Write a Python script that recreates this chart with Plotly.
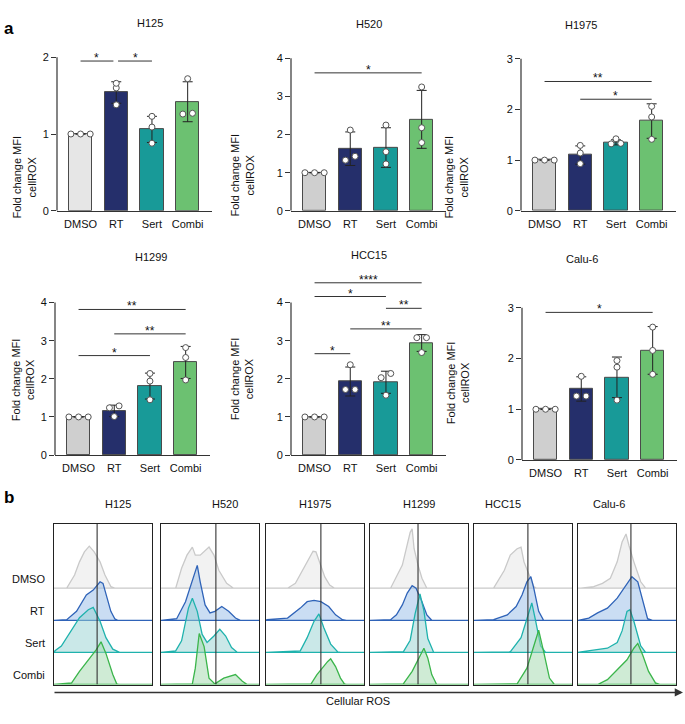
import plotly.graph_objects as go

W, H = 685, 724
FONT = "Liberation Sans, Arial, Helvetica, sans-serif"

# ---------------- data ----------------
groups = ["DMSO", "RT", "Sert", "Combi"]
cell_lines = ["H125", "H520", "H1975", "H1299", "HCC15", "Calu-6"]

mean_H125 = [1.00, 1.54, 1.06, 1.42]
mean_H520 = [1.00, 1.63, 1.66, 2.40]
mean_H1975 = [1.00, 1.10, 1.35, 1.77]
mean_H1299 = [1.00, 1.16, 1.81, 2.43]
mean_HCC15 = [1.00, 1.93, 1.91, 2.94]
mean_Calu6 = [1.00, 1.40, 1.63, 2.16]

sd_H125 = [0, 0.14, 0.17, 0.26]
sd_H520 = [0, 0.44, 0.52, 0.76]
sd_H1975 = [0, 0.18, 0.05, 0.34]
sd_H1299 = [0, 0.15, 0.34, 0.42]
sd_HCC15 = [0, 0.38, 0.29, 0.22]
sd_Calu6 = [0, 0.24, 0.40, 0.47]

pts_H125 = [[1, 1, 1], [1.66, 1.60, 1.38], [1.23, 1.09, 0.88], [1.72, 1.26, 1.27]]
pts_H520 = [[1, 1, 1], [2.12, 1.33, 1.43], [2.25, 1.55, 1.23], [3.25, 2.18, 1.79]]
pts_H1975 = [[1, 1, 1], [1.29, 1.14, 0.93], [1.42, 1.32, 1.33], [2.06, 1.85, 1.41]]
pts_H1299 = [[1, 1, 1], [1.29, 1.24, 1.01], [2.14, 1.94, 1.45], [2.82, 2.56, 1.97]]
pts_HCC15 = [[1, 1, 1], [2.37, 1.72, 1.72], [2.14, 2.03, 1.57], [3.08, 3.08, 2.69]]
pts_Calu6 = [[1, 1, 1], [1.65, 1.26, 1.26], [1.96, 1.83, 1.18], [2.62, 2.16, 1.69]]

# significance: (group i, group j, y level, label)
sig_H125 = [(0, 1, 1.95, "*"), (1, 2, 1.95, "*")]
sig_H520 = [(0, 3, 3.62, "*")]
sig_H1975 = [(0, 3, 2.55, "**"), (1, 3, 2.20, "*")]
sig_H1299 = [(0, 3, 3.82, "**"), (1, 3, 3.18, "**"), (0, 2, 2.61, "*")]
sig_HCC15 = [(0, 3, 4.52, "****"), (0, 2, 4.16, "*"), (2, 3, 3.85, "**"),
             (1, 3, 3.31, "**"), (0, 1, 2.66, "*")]
sig_Calu6 = [(0, 3, 2.91, "*")]

yticks_max = [2, 4, 3, 4, 4, 3]

# flow histograms: (x, relative height) per treatment; gate positions
gate = [44, 56, 56, 49, 55, 54]
hist_H125 = [
    [(13, 0), (21, 0.41), (26, 0.82), (31, 1.13), (36, 1.31), (41, 1.13), (47, 0.82), (52, 0.41), (58, 0.05), (62, 0)],
    [(13, 0.02), (23, 0.28), (33, 0.79), (40, 0.94), (45, 1.15), (47, 1.2), (50, 1.15), (53, 0.79), (58, 0.28), (62, 0.05), (65, 0)],
    [(1, 0.05), (7.5, 0.2), (18, 0.72), (26, 1.08), (35, 1.33), (40, 1.4), (47, 0.97), (53, 0.46), (60, 0.1), (67, 0)],
    [(18, 0.05), (26, 0.41), (35, 0.77), (43, 1.08), (48, 1.33), (53, 0.97), (60, 0.31), (64, 0.02), (67, 0)],
]
hist_H520 = [
    [(15, 0), (21, 0.62), (26.5, 1.03), (32, 1.28), (35, 1.03), (40, 1.03), (45, 1.18), (49, 1.28), (54, 1.03), (59, 0.56), (67, 0.15), (74, 0)],
    [(16, 0.05), (25, 0.58), (32, 1.2), (37, 1.71), (40, 1.2), (45, 0.48), (50, 0.23), (55, 0.28), (62, 0.43), (69, 0.28), (76, 0.07), (81, 0)],
    [(15, 0.05), (21, 0.36), (28, 1.38), (32, 1.69), (37, 1.28), (42, 0.56), (47, 0.31), (54, 0.51), (60, 0.72), (66, 0.51), (72, 0.15), (78, 0)],
    [(32, 0.02), (35, 0.51), (39, 1.59), (44, 1.18), (49, 0.2), (55, 0.02), (64, 0.2), (76, 0.31), (83, 0.1), (88, 0)],
]
hist_H1975 = [
    [(22, 0), (30, 0.15), (37, 0.55), (43, 0.9), (48, 1.15), (51, 1.13), (55, 0.75), (60, 0.35), (65, 0.1), (70, 0)],
    [(1, 0.02), (22, 0.07), (35, 0.38), (42, 0.58), (49, 0.62), (56, 0.58), (64, 0.43), (71, 0.17), (78, 0.02), (82, 0)],
    [(35, 0.05), (42, 0.46), (49, 0.97), (54, 1.2), (59, 0.77), (66, 0.26), (73, 0.02), (76, 0)],
    [(46, 0.02), (52, 0.31), (57, 0.51), (63, 0.72), (66, 0.8), (71, 0.56), (76, 0.2), (80, 0.02), (83, 0)],
]
hist_H1299 = [
    [(21, 0), (33, 0.72), (38, 1.33), (41, 1.74), (43, 1.85), (45, 1.23), (49, 0.72), (53, 0.31), (58, 0)],
    [(21, 0.02), (27, 0.17), (33, 0.48), (38, 0.85), (43, 1.08), (47, 1.0), (53, 0.58), (58, 0.17), (63, 0)],
    [(34, 0.02), (41, 0.38), (46, 1.2), (51, 1.82), (55, 1.3), (59, 0.43), (65, 0)],
    [(34, 0.02), (43, 0.41), (50, 0.82), (55, 1.13), (59, 0.82), (63, 0.31), (68, 0)],
]
hist_HCC15 = [
    [(20, 0), (31, 0.56), (37, 1.03), (44, 1.23), (48, 1.28), (51, 0.82), (56, 0.41), (61, 0.05), (64, 0)],
    [(20, 0.02), (34, 0.17), (43, 0.43), (49, 0.79), (54, 1.2), (58, 1.36), (61, 1.0), (66, 0.28), (71, 0)],
    [(37, 0.02), (48, 0.46), (54, 1.08), (59, 1.54), (63, 0.97), (68, 0.2), (73, 0)],
    [(44, 0.02), (54, 0.51), (61, 1.23), (66, 1.69), (71, 1.03), (77, 0.2), (82, 0)],
]
hist_Calu6 = [
    [(3, 0), (16, 0.05), (25, 0.15), (33, 0.31), (40, 0.82), (45, 1.44), (49, 1.69), (52, 1.33), (57, 0.82), (64, 0.2), (69, 0)],
    [(3, 0.02), (11, 0.07), (20, 0.23), (30, 0.38), (40, 0.69), (49, 1.1), (55, 1.36), (61, 1.2), (66, 0.58), (71, 0.05), (76, 0)],
    [(3, 0.02), (30, 0.13), (40, 0.31), (45, 0.67), (50, 1.28), (53, 1.33), (57, 0.97), (64, 0.2), (69, 0)],
    [(20, 0), (30, 0.15), (40, 0.46), (50, 0.77), (57, 1.13), (61, 1.28), (66, 0.92), (72, 0.41), (79, 0.05), (84, 0)],
]

means = [mean_H125, mean_H520, mean_H1975, mean_H1299, mean_HCC15, mean_Calu6]
sds = [sd_H125, sd_H520, sd_H1975, sd_H1299, sd_HCC15, sd_Calu6]
pts = [pts_H125, pts_H520, pts_H1975, pts_H1299, pts_HCC15, pts_Calu6]
sigs = [sig_H125, sig_H520, sig_H1975, sig_H1299, sig_HCC15, sig_Calu6]
hists = [hist_H125, hist_H520, hist_H1975, hist_H1299, hist_HCC15, hist_Calu6]

# ---------------- layout geometry (pixels) ----------------
axis_x = [57, 291, 521, 55, 291, 522]
base_y = [209, 209, 209, 457, 457, 462]
unit_px = [78, 38.7, 51.5, 38.7, 38.7, 51.5]
cat_px = 35.7
x_lo, x_hi = -0.66, 3.69
title_y = [10, 11, 12, 256, 254, 258]
ylab_x = [9, 242, 471, 8, 242, 473]
ylab_y = [131, 129, 131, 381, 380, 383]

box_left = [54, 161, 266, 370, 474, 578]
box_w = 98
box_top, box_bot = 527, 690

bar_colors = ["#cfcfcf", "#252f6b", "#189a98", "#6cc171"]
dmso_h125 = "#e6e6e6"
h_line = ["#c9c9c9", "#2f63b8", "#1fb2ad", "#3bb54b"]
h_fill = ["rgba(232,232,232,0.55)", "rgba(150,188,232,0.5)",
          "rgba(150,210,210,0.5)", "rgba(160,215,172,0.5)"]


def fx(p):
    return p / W


def fy(p):
    return 1 - p / H


fig = go.Figure()
shapes, annotations = [], []
lay = {}

# ---------------- panel a: bar charts ----------------
for k, cl in enumerate(cell_lines):
    i = k + 1
    xn, yn = ("x", "y") if i == 1 else (f"x{i}", f"y{i}")
    xk, yk = ("xaxis", "yaxis") if i == 1 else (f"xaxis{i}", f"yaxis{i}")
    B, U, ax0 = base_y[k], unit_px[k], axis_x[k]
    top_val = max([yticks_max[k]] + [s[2] for s in sigs[k]]) + 0.04
    xd = [fx(ax0), fx(ax0 + (x_hi - x_lo) * cat_px)]
    yd = [fy(B), fy(B - top_val * U)]
    lay[xk] = dict(domain=xd, range=[x_lo, x_hi], anchor=yn, showline=True,
                   linecolor="#333", linewidth=1.2, showgrid=False, zeroline=False,
                   tickvals=[0, 1, 2, 3], ticktext=groups, ticks="",
                   ticklabelstandoff=3,
                   tickfont=dict(size=11, color="#111", family=FONT))
    lay[yk] = dict(domain=yd, range=[0, top_val], anchor=xn, showline=False,
                   showgrid=False, zeroline=False, ticks="outside", ticklen=5,
                   tickcolor="#333", tickwidth=1.2,
                   tickvals=list(range(yticks_max[k] + 1)),
                   tickfont=dict(size=11, color="#111", family=FONT))
    cols = list(bar_colors)
    if k == 0:
        cols[0] = dmso_h125
    fig.add_trace(go.Bar(
        x=[0, 1, 2, 3], y=means[k], width=0.65, xaxis=xn, yaxis=yn,
        marker=dict(color=cols, line=dict(color="#4a4a4a", width=1)),
        error_y=dict(type="data", array=[v if v > 0 else None for v in sds[k]],
                     color="#222", thickness=1, width=5),
        showlegend=False, hoverinfo="skip"))
    # points with simple beeswarm spreading
    px_, py_ = [], []
    for g, vals in enumerate(pts[k]):
        sv = sorted(vals)
        grp = [[sv[0]]]
        for v in sv[1:]:
            if (v - grp[-1][-1]) * U < 4.5:
                grp[-1].append(v)
            else:
                grp.append([v])
        for gg in grp:
            n = len(gg)
            for j, v in enumerate(gg):
                px_.append(g + (j - (n - 1) / 2) * 0.27)
                py_.append(v)
    fig.add_trace(go.Scatter(
        x=px_, y=py_, mode="markers", xaxis=xn, yaxis=yn, cliponaxis=False,
        marker=dict(size=6, color="white", line=dict(color="#555", width=1)),
        showlegend=False, hoverinfo="skip"))
    # y axis line up to the top tick
    shapes.append(dict(type="line", xref=f"{xn} domain", yref=yn, x0=0, x1=0,
                       y0=0, y1=yticks_max[k], line=dict(color="#333", width=1.2)))
    # significance bars
    for (a, b, yv, lab) in sigs[k]:
        x0, x1 = a, b
        for (a2, b2, yv2, _) in sigs[k]:
            if abs(yv2 - yv) < 1e-9 and (a2, b2) != (a, b):
                if a2 == b:
                    x1 = b - 0.08
                if b2 == a:
                    x0 = a + 0.05
        shapes.append(dict(type="line", xref=xn, yref=yn, x0=x0, x1=x1, y0=yv, y1=yv,
                           line=dict(color="#333", width=1)))
        annotations.append(dict(x=(x0 + x1) / 2, y=yv, xref=xn, yref=yn, text=lab,
                                showarrow=False, yanchor="middle", yshift=3,
                                font=dict(size=12, color="#111", family=FONT)))
    annotations.append(dict(x=(xd[0] + xd[1]) / 2, y=fy(title_y[k]), xref="paper",
                            yref="paper", text=cl, showarrow=False,
                            font=dict(size=11, color="#111", family=FONT)))
    annotations.append(dict(x=fx(ylab_x[k]), y=fy(ylab_y[k]), xref="paper", yref="paper",
                            text="Fold change MFI<br>cellROX", textangle=-90,
                            showarrow=False,
                            font=dict(size=11, color="#111", family=FONT)))

# ---------------- panel b: histograms ----------------
for k, cl in enumerate(cell_lines):
    i = k + 7
    xn, yn = f"x{i}", f"y{i}"
    xk, yk = f"xaxis{i}", f"yaxis{i}"
    xd = [fx(box_left[k]), fx(box_left[k] + box_w)]
    lay[xk] = dict(domain=xd, range=[0, 100], anchor=yn, showline=True, mirror=True,
                   linecolor="#222", linewidth=1.2, showgrid=False, zeroline=False,
                   showticklabels=False, ticks="")
    lay[yk] = dict(domain=[fy(box_bot), fy(box_top)], range=[0, 5], anchor=xn,
                   showline=True, mirror=True, linecolor="#222", linewidth=1.2,
                   showgrid=False, zeroline=False, showticklabels=False, ticks="")
    for g in range(4):
        base = 3 - g
        curve = [(0, 0)] + hists[k][g] + [(100, 0)]
        xs = [c[0] for c in curve]
        ys = [base + c[1] for c in curve]
        fig.add_trace(go.Scatter(
            x=xs + [100, 0], y=ys + [base, base], mode="lines", fill="toself",
            fillcolor=h_fill[g], line=dict(color=h_line[g], width=1.3),
            xaxis=xn, yaxis=yn, showlegend=False, hoverinfo="skip"))
    shapes.append(dict(type="line", xref=xn, yref=yn, x0=gate[k], x1=gate[k],
                       y0=0, y1=5, line=dict(color="#333", width=1.1)))
    annotations.append(dict(x=(xd[0] + xd[1]) / 2, y=fy(515), xref="paper", yref="paper",
                            text=cl, showarrow=False,
                            font=dict(size=11, color="#111", family=FONT)))

for g, name in enumerate(groups):
    annotations.append(dict(x=fx(47), y=3 - g + 0.3, xref="paper", yref="y7",
                            text=name, showarrow=False, xanchor="right",
                            font=dict(size=11, color="#111", family=FONT)))

annotations.append(dict(x=fx(683), y=fy(698), xref="paper", yref="paper", text="",
                        showarrow=True, ax=-630, ay=0, axref="pixel", ayref="pixel",
                        arrowhead=2, arrowsize=1.1, arrowwidth=1.5, arrowcolor="#333"))
annotations.append(dict(x=fx(358), y=fy(715), xref="paper", yref="paper",
                        text="Cellular ROS", showarrow=False,
                        font=dict(size=11, color="#111", family=FONT)))
annotations.append(dict(x=fx(2), y=fy(12), xref="paper", yref="paper", text="<b>a</b>",
                        showarrow=False, xanchor="left",
                        font=dict(size=17, color="#000", family=FONT)))
annotations.append(dict(x=fx(2), y=fy(512), xref="paper", yref="paper", text="<b>b</b>",
                        showarrow=False, xanchor="left",
                        font=dict(size=17, color="#000", family=FONT)))

fig.update_layout(width=W, height=H, autosize=False,
                  margin=dict(l=0, r=0, t=0, b=0),
                  paper_bgcolor="white", plot_bgcolor="rgba(0,0,0,0)",
                  font=dict(family=FONT, size=11, color="#111"),
                  bargap=0, shapes=shapes, annotations=annotations, **lay)

fig.write_html("out.html", config={"displayModeBar": False},
               post_script="document.body.style.margin='0';")
